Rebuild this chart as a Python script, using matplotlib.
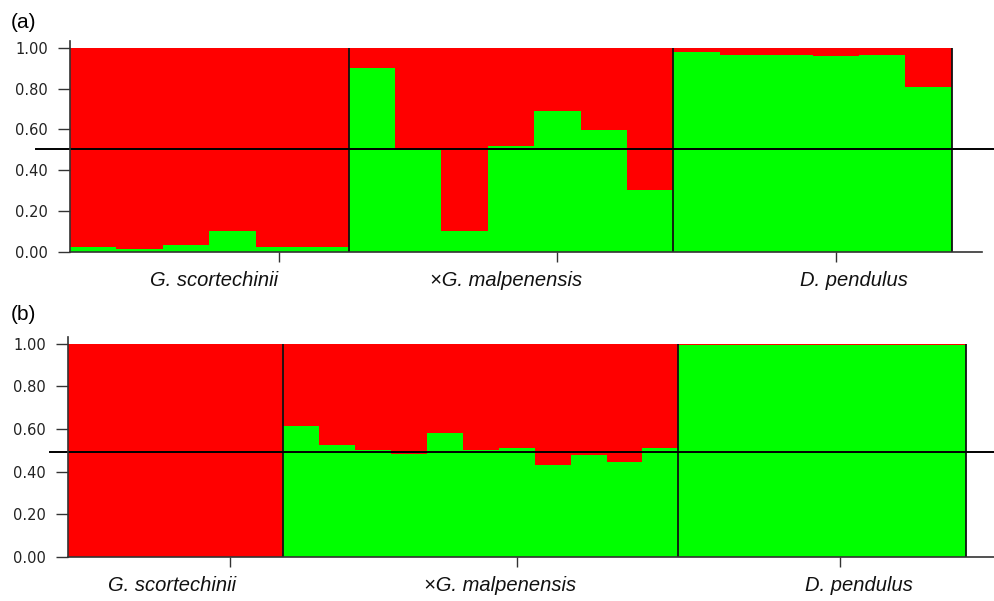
import numpy as np
import matplotlib
matplotlib.use("Agg")
import matplotlib.pyplot as plt

# membership in the green cluster per individual, red = 1 - green
groups = ["G. scortechinii", "\u00d7G. malpenensis", "D. pendulus"]

a_sizes = [6, 7, 6]
a_green = [0.023, 0.013, 0.033, 0.104, 0.023, 0.023,
           0.902, 0.500, 0.104, 0.518, 0.690, 0.597, 0.304,
           0.982, 0.967, 0.967, 0.961, 0.967, 0.810]

b_sizes = [6, 11, 8]
b_green = [0.0, 0.0, 0.0, 0.0, 0.0, 0.0,
           0.613, 0.527, 0.502, 0.481, 0.583, 0.502, 0.513, 0.430, 0.477, 0.444, 0.513,
           0.996, 0.996, 0.996, 0.996, 0.996, 0.996, 0.996, 0.996]

a_ticks = [4.5, 10.5, 16.5]
b_ticks = [4.5, 12.5, 21.5]

RED = "#ff0000"
GREEN = "#00ff00"

fig = plt.figure(figsize=(9.95, 6.01), dpi=100)


def panel(rect, green, sizes, ticks, label_x, xmax, ytop, cut, hl_from):
    ax = fig.add_axes(rect)
    green = np.array(green)
    x = np.arange(len(green))
    ax.bar(x, green, width=1.0, align="edge", color=GREEN, linewidth=0)
    ax.bar(x, 1 - green, bottom=green, width=1.0, align="edge", color=RED, linewidth=0)

    # group separators and right edge
    edges = np.cumsum(sizes)
    for e in edges:
        ax.plot([e, e], [0, 1], color="#111111", lw=1.3, solid_capstyle="butt")

    # threshold line running past the axes on both sides
    ax.axhline(cut, xmin=hl_from, xmax=1.1, color="black", lw=1.4, clip_on=False)

    ax.set_xlim(0, xmax)
    ax.set_ylim(0, ytop)
    ax.set_yticks(np.arange(0, 1.01, 0.2))
    ax.set_yticklabels(["%.2f" % v for v in np.arange(0, 1.01, 0.2)],
                       fontsize=10.5, color="#222222", family="DejaVu Sans")
    ax.set_xticks(ticks)
    ax.set_xticklabels([])
    ax.tick_params(axis="y", length=9, width=1, color="#333333", pad=7)
    ax.tick_params(axis="x", length=7, width=1, color="#333333")
    for s in ["top", "right"]:
        ax.spines[s].set_visible(False)
    for s in ["left", "bottom"]:
        ax.spines[s].set_color("#333333")
        ax.spines[s].set_linewidth(1.2)

    for lx, name in zip(label_x, groups):
        ax.text(lx, -0.09, name, ha="center", va="top", fontsize=14.5, style="italic",
                family="Liberation Sans", color="#111111", transform=ax.get_xaxis_transform())
    return ax


panel([0.0704, 0.5807, 0.9166, 0.3516], a_green, a_sizes, a_ticks,
      [3.1, 9.39, 16.9], 19.65, 1.035, 0.505, -0.037)
panel([0.0683, 0.0737, 0.9317, 0.365], b_green, b_sizes, b_ticks,
      [2.9, 12.03, 22.03], 25.82, 1.031, 0.494, -0.019)

fig.text(0.011, 0.978, "(a)", fontsize=15, family="Liberation Sans", va="top")
fig.text(0.011, 0.493, "(b)", fontsize=15, family="Liberation Sans", va="top")

fig.savefig("out.png", dpi=100)
